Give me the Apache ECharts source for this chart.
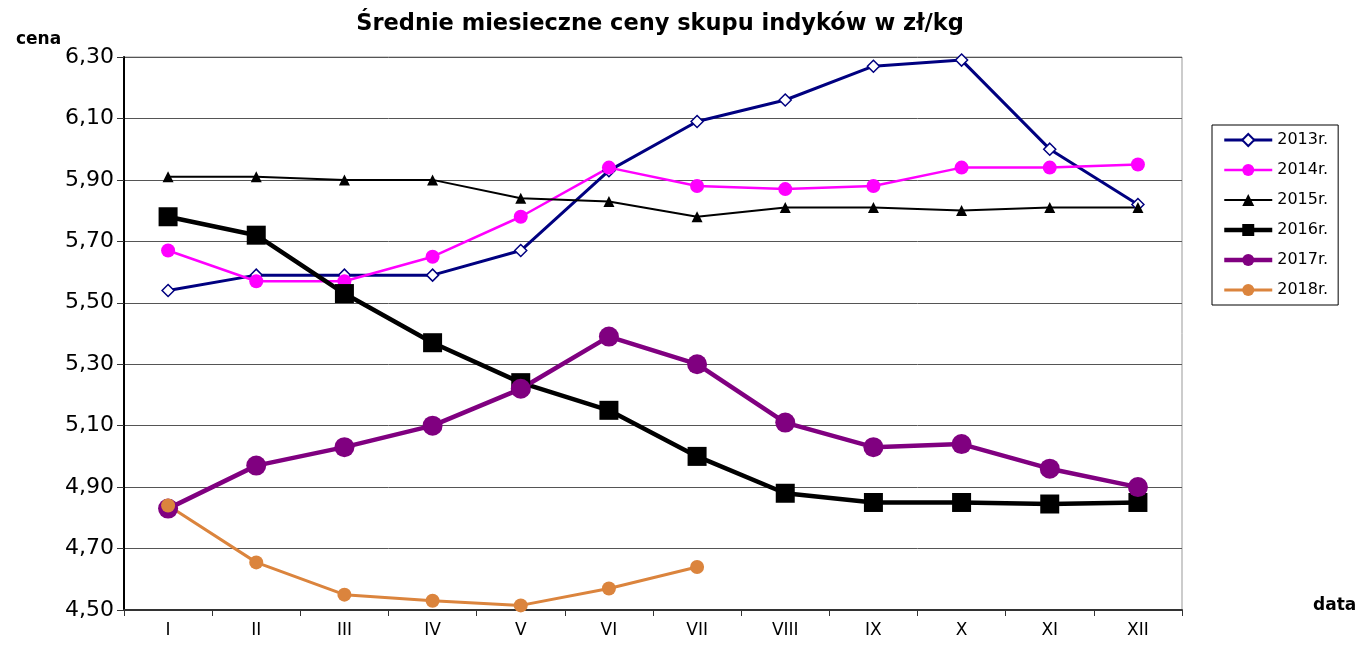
<!DOCTYPE html>
<html><head><meta charset="utf-8">
<script src="https://cdn.jsdelivr.net/npm/echarts@6/dist/echarts.min.js"></script>
<style>html,body{margin:0;padding:0;background:#fff}#c{width:1372px;height:668px}</style>
</head><body><div id="c"></div>
<script>
var categories = ['I','II','III','IV','V','VI','VII','VIII','IX','X','XI','XII'];
var s2013 = [5.54,5.59,5.59,5.59,5.67,5.93,6.09,6.16,6.27,6.29,6.00,5.82];
var s2014 = [5.67,5.57,5.57,5.65,5.78,5.94,5.88,5.87,5.88,5.94,5.94,5.95];
var s2015 = [5.91,5.91,5.90,5.90,5.84,5.83,5.78,5.81,5.81,5.80,5.81,5.81];
var s2016 = [5.78,5.72,5.53,5.37,5.24,5.15,5.00,4.88,4.85,4.85,4.845,4.85];
var s2017 = [4.83,4.97,5.03,5.10,5.22,5.39,5.30,5.11,5.03,5.04,4.96,4.90];
var s2018 = [4.84,4.655,4.55,4.53,4.515,4.57,4.64];
var seriesNames = ['2013r.','2014r.','2015r.','2016r.','2017r.','2018r.'];

var FONT = '"DejaVu Sans", sans-serif';
var chart = echarts.init(document.getElementById('c'));
var widths = [3, 2.5, 2, 4.5, 4.5, 3];
function mk(name, data, color, width, symbol, size, fill) {
  return {
    name: name, type: 'line', data: data, symbol: symbol, symbolSize: size,
    showAllSymbol: true,
    lineStyle: {color: color, width: width},
    itemStyle: {color: fill || color, borderColor: color, borderWidth: fill ? 1.5 : 0, opacity: 1},
    emphasis: {disabled: true}, animation: false
  };
}
chart.setOption({
  animation: false,
  title: [{
    text: 'Średnie miesieczne ceny skupu indyków w zł/kg',
    left: 655, textAlign: 'center', top: 8,
    textStyle: {fontFamily: FONT, fontSize: 22.5, fontWeight: 'bold', color: '#000'}
  }, {
    text: 'cena', left: 11, top: 26,
    textStyle: {fontFamily: FONT, fontSize: 17, fontWeight: 'bold', color: '#000'}
  }, {
    text: 'data', left: 1308, top: 592,
    textStyle: {fontFamily: FONT, fontSize: 17, fontWeight: 'bold', color: '#000'}
  }],
  grid: {left: 124, right: 190, top: 57, bottom: 58, show: true, borderColor: '#999', borderWidth: 1},
  legend: {
    orient: 'vertical', left: 1212, top: 125, padding: [7, 10, 7, 10],
    itemGap: 14, itemWidth: 48, itemHeight: 15,
    borderColor: '#000', borderWidth: 1,
    textStyle: {fontFamily: FONT, fontSize: 16, color: '#000'},
    data: seriesNames.map(function (n, i) { return {name: n, lineStyle: {width: widths[i]}}; })
  },
  xAxis: {
    type: 'category', data: categories, boundaryGap: true,
    axisLine: {lineStyle: {color: '#333', width: 2}},
    axisTick: {show: true, length: 6, lineStyle: {color: '#333'}},
    axisLabel: {fontFamily: FONT, fontSize: 17, color: '#000', margin: 12},
    splitLine: {show: false}
  },
  yAxis: {
    type: 'value', min: 4.5, max: 6.3, interval: 0.2,
    axisLine: {show: true, lineStyle: {color: '#000', width: 2}},
    axisTick: {show: true, length: 7, lineStyle: {color: '#333'}},
    axisLabel: {fontFamily: FONT, fontSize: 22, color: '#000', margin: 10,
      formatter: function (v) { return v.toFixed(2).replace('.', ','); }},
    splitLine: {show: true, lineStyle: {color: '#555', width: 1}}
  },
  series: [
    mk(seriesNames[0], s2013, '#000080', widths[0], 'diamond', 12, '#fff'),
    mk(seriesNames[1], s2014, '#FF00FF', widths[1], 'circle', 14),
    mk(seriesNames[2], s2015, '#000000', widths[2], 'triangle', 11),
    mk(seriesNames[3], s2016, '#000000', widths[3], 'rect', 19),
    mk(seriesNames[4], s2017, '#800080', widths[4], 'circle', 20),
    mk(seriesNames[5], s2018, '#DB843D', widths[5], 'circle', 14)
  ]
});
</script>
</body></html>
